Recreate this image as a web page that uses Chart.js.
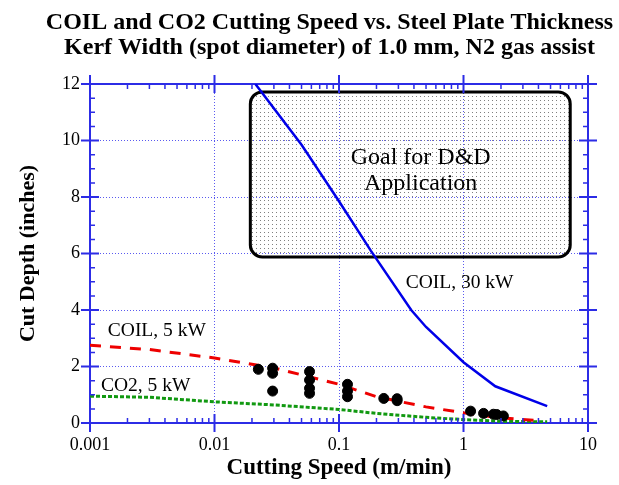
<!DOCTYPE html>
<html>
<head>
<meta charset="utf-8">
<script src="https://cdn.jsdelivr.net/npm/chart.js@4/dist/chart.umd.min.js"></script>
<style>
  html, body { margin: 0; padding: 0; background: #fff; }
</style>
</head>
<body>
<canvas id="cut-chart" width="619" height="485"></canvas>
<script>
// values (x = cutting speed m/min, y = cut depth inches)
const coil30X = [0.0213, 0.05, 0.1, 0.18, 0.38, 0.5, 1, 1.8, 4.7];
const coil30Y = [12, 9.85, 7.85, 6.1, 4.0, 3.4, 2.15, 1.3, 0.6];
const coil5X = [0.001, 0.003, 0.01, 0.03, 0.1, 0.2, 0.5, 1, 2, 4.3];
const coil5Y = [2.75, 2.6, 2.3, 1.95, 1.37, 0.93, 0.57, 0.36, 0.18, 0.07];
const co2X = [0.001, 0.003, 0.01, 0.03, 0.1, 0.2, 0.5, 1, 2, 4.7];
const co2Y = [0.95, 0.91, 0.75, 0.64, 0.48, 0.34, 0.2, 0.12, 0.06, 0.04];
const measX = [0.0225, 0.0293, 0.0293, 0.0293, 0.058, 0.058, 0.058, 0.058, 0.117, 0.117, 0.117,
               0.229, 0.293, 0.293, 1.14, 1.45, 1.74, 1.85, 2.09];
const measY = [1.9, 1.94, 1.76, 1.13, 1.82, 1.52, 1.23, 1.05, 1.37, 1.13, 0.93,
               0.87, 0.86, 0.79, 0.42, 0.34, 0.31, 0.3, 0.25];
const xTicks = [0.001, 0.01, 0.1, 1, 10];
const yTicks = [0, 2, 4, 6, 8, 10, 12];
const goalX = [0.0194, 7.2];
const goalY = [5.88, 11.72];

const titleLines = ['COIL and CO2 Cutting Speed vs. Steel Plate Thickness',
                    'Kerf Width (spot diameter) of 1.0 mm, N2 gas assist'];
const notes = [
  {text: 'COIL, 30 kW', x: 0.93, y: 4.96},
  {text: 'COIL, 5 kW', x: 0.00344, y: 3.26},
  {text: 'CO2, 5 kW', x: 0.0028, y: 1.31}
];
const goalLines = [
  {text: 'Goal for D&D', x: 0.453, y: 9.4},
  {text: 'Application', x: 0.453, y: 8.48}
];

const serif = "'Liberation Serif', 'Times New Roman', serif";
const axisBlue = '#2c2ce6';
const gridBlue = '#5a5af0';

Chart.defaults.font.family = serif;
Chart.defaults.color = '#000';

const pts = (xs, ys) => xs.map((v, i) => ({x: v, y: ys[i]}));

function dotPattern(ctx) {
  const c = document.createElement('canvas');
  c.width = 4; c.height = 4;
  const g = c.getContext('2d');
  g.fillStyle = '#808080';
  g.fillRect(0, 0, 1, 1);
  return ctx.createPattern(c, 'repeat');
}

// rounded "goal" box + its text, under the lines
const goalBox = {
  id: 'goalBox',
  beforeDatasetsDraw(chart) {
    const {ctx, scales: {x, y}} = chart;
    const l = x.getPixelForValue(goalX[0]), r = x.getPixelForValue(goalX[1]);
    const t = y.getPixelForValue(goalY[1]), b = y.getPixelForValue(goalY[0]);
    ctx.save();
    ctx.beginPath();
    ctx.roundRect(l, t, r - l, b - t, 12);
    ctx.fillStyle = dotPattern(ctx);
    ctx.fill();
    ctx.lineWidth = 3;
    ctx.strokeStyle = '#000';
    ctx.stroke();
    ctx.fillStyle = '#000';
    ctx.font = '24px ' + serif;
    ctx.textAlign = 'center';
    ctx.textBaseline = 'middle';
    goalLines.forEach(n => ctx.fillText(n.text, x.getPixelForValue(n.x), y.getPixelForValue(n.y)));
    ctx.restore();
  },
  afterDatasetsDraw(chart) {
    const {ctx, scales: {x, y}} = chart;
    ctx.save();
    ctx.fillStyle = '#000';
    ctx.font = '19.5px ' + serif;
    ctx.textAlign = 'center';
    ctx.textBaseline = 'middle';
    notes.forEach(n => ctx.fillText(n.text, x.getPixelForValue(n.x), y.getPixelForValue(n.y)));
    ctx.restore();
  }
};

// tick marks on all four sides of the frame
const frameTicks = {
  id: 'frameTicks',
  afterDraw(chart) {
    const {ctx, chartArea: a, scales: {x, y}} = chart;
    ctx.save();
    ctx.strokeStyle = axisBlue;
    ctx.lineWidth = 2;
    ctx.beginPath();
    xTicks.forEach(v => {
      const px = x.getPixelForValue(v);
      ctx.moveTo(px, a.top - 9); ctx.lineTo(px, a.top + 9);
      ctx.moveTo(px, a.bottom - 9); ctx.lineTo(px, a.bottom + 9);
    });
    yTicks.forEach(v => {
      const py = y.getPixelForValue(v);
      ctx.moveTo(a.left - 9, py); ctx.lineTo(a.left + 9, py);
      ctx.moveTo(a.right - 9, py); ctx.lineTo(a.right + 9, py);
    });
    ctx.stroke();
    ctx.lineWidth = 1.5;
    ctx.beginPath();
    xTicks.slice(0, -1).forEach(d => {
      for (let m = 2; m <= 9; m++) {
        const px = x.getPixelForValue(m * d);
        ctx.moveTo(px, a.top); ctx.lineTo(px, a.top + 5);
        ctx.moveTo(px, a.bottom); ctx.lineTo(px, a.bottom - 5);
      }
    });
    for (let v = 0.5; v < 12; v += 0.5) {
      if (v % 2 === 0) continue;
      const py = y.getPixelForValue(v);
      ctx.moveTo(a.left, py); ctx.lineTo(a.left + 5, py);
      ctx.moveTo(a.right, py); ctx.lineTo(a.right - 5, py);
    }
    ctx.stroke();
    ctx.restore();
  }
};

const ctx = document.getElementById('cut-chart').getContext('2d');
const cutChart = new Chart(ctx, {
  type: 'scatter',
  data: {
    datasets: [{
        label: 'measured',
        data: pts(measX, measY),
        backgroundColor: '#000',
        borderColor: '#000',
        pointRadius: 5,
        order: 0
      }, {
        label: 'COIL, 30 kW',
        data: pts(coil30X, coil30Y),
        showLine: true,
        borderColor: '#0000e8',
        borderWidth: 2.5,
        pointRadius: 0,
        order: 1
      }, {
        label: 'COIL, 5 kW',
        data: pts(coil5X, coil5Y),
        showLine: true,
        borderColor: '#ee0000',
        borderWidth: 3,
        borderDash: [11, 9],
        pointRadius: 0,
        order: 2
      }, {
        label: 'CO2, 5 kW',
        data: pts(co2X, co2Y),
        showLine: true,
        borderColor: '#119911',
        borderWidth: 3,
        borderDash: [4, 2],
        pointRadius: 0,
        order: 3
    }]
  },
  options: {
    responsive: false,
    animation: false,
    devicePixelRatio: 1,
    layout: {
      padding: {left: 40, right: 0, top: 0, bottom: 0}
    },
    scales: {
      x: {
        type: 'logarithmic',
        position: 'bottom',
        min: 0.001,
        max: 10,
        afterBuildTicks: s => { s.ticks = xTicks.map(v => ({value: v})); },
        afterFit: s => { s.height = 62; },
        ticks: {
          callback: v => String(v),
          font: {size: 18},
          padding: 11,
          maxRotation: 0,
          autoSkip: false
        },
        grid: {color: gridBlue, lineWidth: 1, drawTicks: false},
        border: {display: true, color: axisBlue, width: 2, dash: [1, 2]},
        title: {
          display: true,
          text: 'Cutting Speed (m/min)',
          font: {size: 23, weight: 'bold'},
          padding: {top: 0, bottom: 3}
        }
      },
      x2: {
        type: 'logarithmic',
        position: 'top',
        min: 0.001,
        max: 10,
        afterFit: s => { s.height = 23.6; },
        ticks: {display: false},
        grid: {drawOnChartArea: false, drawTicks: false},
        border: {display: true, color: axisBlue, width: 2}
      },
      y: {
        min: 0,
        max: 12,
        afterBuildTicks: s => { s.ticks = yTicks.map(v => ({value: v})); },
        afterFit: s => { s.width = 50; },
        ticks: {font: {size: 18}, padding: 10},
        grid: {color: gridBlue, lineWidth: 1, drawTicks: false},
        border: {display: true, color: axisBlue, width: 2, dash: [1, 2]},
        title: {
          display: true,
          text: 'Cut Depth (inches)',
          font: {size: 22, weight: 'bold'},
          padding: {top: -25, bottom: 0}
        }
      },
      y2: {
        position: 'right',
        min: 0,
        max: 12,
        afterFit: s => { s.width = 31; },
        ticks: {display: false},
        grid: {drawOnChartArea: false, drawTicks: false},
        border: {display: true, color: axisBlue, width: 2}
      }
    },
    plugins: {
      legend: {display: false},
      tooltip: {enabled: false},
      title: {
        display: true,
        text: titleLines,
        color: '#000',
        font: {size: 24, weight: 'bold', lineHeight: 1.05},
        padding: {top: 10, bottom: 0}
      }
    }
  },
  plugins: [goalBox, frameTicks]
});
</script>
</body>
</html>
